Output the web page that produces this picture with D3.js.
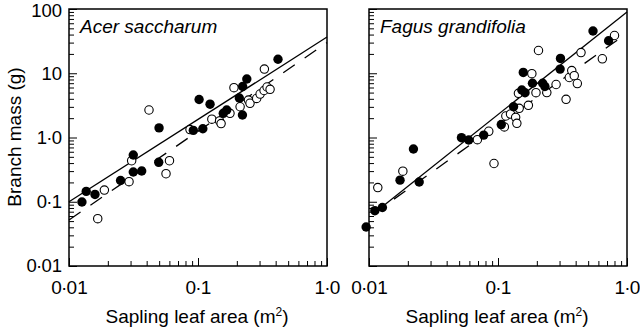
<!DOCTYPE html>
<html>
<head>
<meta charset="utf-8">
<script src="https://cdn.jsdelivr.net/npm/d3@7"></script>
<style>
  body { margin: 0; background: #fff; }
  text { font-family: 'Liberation Sans', Arial, sans-serif; fill: #000; }
  .frame { fill: none; stroke: #000; stroke-width: 1.5; }
  .axis path { display: none; }
  .axis line { stroke: #000; stroke-width: 1; }
</style>
</head>
<body>
<div id="chart"></div>
<script>
var width = 640;
var height = 328;

// Acer saccharum, filled and open symbols
var aceFilledArea = [0.0126, 0.0136, 0.0159, 0.0251, 0.0315, 0.0315, 0.0366, 0.0496, 0.0499, 0.092,
  0.109, 0.102, 0.124, 0.157, 0.167, 0.209, 0.221, 0.222, 0.239, 0.417];
var aceFilledMass = [0.099, 0.145, 0.130, 0.214, 0.534, 0.290, 0.301, 0.411, 1.41, 1.29,
  1.37, 3.90, 3.30, 2.38, 2.68, 4.12, 2.24, 6.22, 8.14, 16.5];
var aceOpenArea = [0.0167, 0.0188, 0.0292, 0.0306, 0.0565, 0.0601, 0.0417, 0.0867, 0.128, 0.147, 0.151,
  0.177, 0.190, 0.212, 0.246, 0.253, 0.285, 0.303, 0.325, 0.343, 0.362, 0.327];
var aceOpenMass = [0.0545, 0.152, 0.205, 0.435, 0.273, 0.435, 2.68, 1.33, 1.93, 1.81, 1.65,
  2.38, 5.96, 3.01, 3.83, 3.41, 4.05, 4.75, 5.39, 6.11, 5.62, 11.6];

// Fagus grandifolia, filled and open symbols
var fagFilledArea = [0.0095, 0.0111, 0.0127, 0.0174, 0.0221, 0.0245, 0.0521, 0.0593, 0.0775, 0.106, 0.132,
  0.153, 0.162, 0.157, 0.185, 0.222, 0.231, 0.303, 0.305, 0.545, 0.720];
var fagFilledMass = [0.0405, 0.0726, 0.0814, 0.217, 0.662, 0.203, 0.993, 0.914, 1.09, 1.59, 3.01,
  5.49, 4.98, 10.3, 6.98, 6.98, 6.22, 11.6, 17.0, 45.5, 32.1];
var fagOpenArea = [0.0117, 0.0183, 0.0692, 0.0848, 0.0931, 0.112, 0.115, 0.125, 0.137, 0.140, 0.146, 0.144, 0.172,
  0.183, 0.197, 0.206, 0.239, 0.282, 0.337, 0.357, 0.373, 0.390, 0.412, 0.440, 0.644, 0.800];
var fagOpenMass = [0.166, 0.299, 0.924, 1.25, 0.394, 1.46, 2.16, 2.32, 2.06, 1.66, 2.85, 4.87, 3.17,
  9.84, 4.98, 22.6, 5.01, 6.68, 3.93, 8.59, 11.0, 9.16, 6.92, 21.0, 16.8, 38.7];

// fitted lines (end points)
var aceSolidArea = [0.01, 1.0], aceSolidMass = [0.1, 36.6];
var aceDashArea = [0.01, 1.0], aceDashMass = [0.052, 30];
var fagSolidArea = [0.0107, 1.0], fagSolidMass = [0.064, 90];
var fagDashArea = [0.0107, 1.0], fagDashMass = [0.064, 42];

var xTicks = [0.01, 0.1, 1];
var xTickLabels = ['0·01', '0·1', '1·0'];
var yTicks = [0.01, 0.1, 1, 10, 100];
var yTickLabels = ['0·01', '0·1', '1·0', '10', '100'];

var svg = d3.select('#chart').append('svg')
  .attr('width', width)
  .attr('height', height);

var y = d3.scaleLog().domain([0.01, 100]).range([266, 9]);

function minorTicks(lo, hi) {
  var out = [];
  for (var e = lo; e < hi; e++) {
    for (var k = 2; k <= 9; k++) out.push(k * Math.pow(10, e));
  }
  return out;
}

// put the middle dot closer to the digits
function dotLabels(sel) {
  sel.each(function() {
    var t = d3.select(this);
    var s = t.text();
    if (s.indexOf('·') < 0) return;
    var parts = s.split('·');
    t.text(null);
    t.append('tspan').text(parts[0]);
    t.append('tspan').attr('dx', -0.8).text('·');
    t.append('tspan').attr('dx', -0.8).text(parts[1]);
  });
}

function drawPanel(x0, title, filledA, filledM, openA, openM, solidA, solidM, dashA, dashM, showY) {
  var x = d3.scaleLog().domain([0.01, 1]).range([x0, x0 + 258]);
  var g = svg.append('g');

  // minor + major ticks, pointing inward
  g.append('g').attr('class', 'axis')
    .attr('transform', 'translate(' + x0 + ',0)')
    .call(d3.axisLeft(y).tickValues(minorTicks(-2, 2)).tickSize(-5).tickFormat(''));
  var ya = g.append('g').attr('class', 'axis')
    .attr('transform', 'translate(' + x0 + ',0)')
    .call(d3.axisLeft(y).tickValues(yTicks).tickSize(-8).tickPadding(7)
      .tickFormat(function(d, i) { return showY ? yTickLabels[i] : ''; }));
  ya.selectAll('text').style('font-size', '18.5px').call(dotLabels);
  // keep the top label inside the page
  ya.selectAll('text').filter(function(d) { return d === 100; }).attr('dy', '0.43em');

  g.append('g').attr('class', 'axis')
    .attr('transform', 'translate(0,266)')
    .call(d3.axisBottom(x).tickValues(minorTicks(-2, 0)).tickSize(-5).tickFormat(''));
  var xa = g.append('g').attr('class', 'axis')
    .attr('transform', 'translate(0,266)')
    .call(d3.axisBottom(x).tickValues(xTicks).tickSize(-8).tickPadding(14.5)
      .tickFormat(function(d, i) { return xTickLabels[i]; }));
  xa.selectAll('text').style('font-size', '19px').call(dotLabels);

  g.append('rect').attr('class', 'frame')
    .attr('x', x0).attr('y', 9).attr('width', 258).attr('height', 257);

  var line = d3.line()
    .x(function(d) { return x(d[0]); })
    .y(function(d) { return y(d[1]); });

  g.append('path')
    .datum(d3.zip(solidA, solidM))
    .attr('d', line)
    .attr('fill', 'none').attr('stroke', '#000').attr('stroke-width', 1.3);
  g.append('path')
    .datum(d3.zip(dashA, dashM))
    .attr('d', line)
    .attr('fill', 'none').attr('stroke', '#000').attr('stroke-width', 1.3)
    .attr('stroke-dasharray', '14,12');

  g.append('g').selectAll('circle')
    .data(d3.zip(openA, openM))
    .enter().append('circle')
    .attr('cx', function(d) { return x(d[0]); })
    .attr('cy', function(d) { return y(d[1]); })
    .attr('r', 4.2)
    .attr('fill', '#fff')
    .attr('stroke', '#000')
    .attr('stroke-width', 1.1);

  g.append('g').selectAll('circle')
    .data(d3.zip(filledA, filledM))
    .enter().append('circle')
    .attr('cx', function(d) { return x(d[0]); })
    .attr('cy', function(d) { return y(d[1]); })
    .attr('r', 4.7)
    .attr('fill', '#000');

  g.append('text')
    .attr('x', x0 + 11)
    .attr('y', 33)
    .style('font-size', '19px')
    .style('font-style', 'italic')
    .text(title);

  var xl = g.append('text')
    .attr('x', x0 + 128)
    .attr('y', 323)
    .attr('text-anchor', 'middle')
    .style('font-size', '19px');
  xl.append('tspan').text('Sapling leaf area (m');
  xl.append('tspan').attr('dy', -7).style('font-size', '12px').text('2');
  xl.append('tspan').attr('dy', 7).text(')');
}

drawPanel(69, 'Acer saccharum', aceFilledArea, aceFilledMass, aceOpenArea, aceOpenMass,
  aceSolidArea, aceSolidMass, aceDashArea, aceDashMass, true);
drawPanel(369, 'Fagus grandifolia', fagFilledArea, fagFilledMass, fagOpenArea, fagOpenMass,
  fagSolidArea, fagSolidMass, fagDashArea, fagDashMass, false);

svg.append('text')
  .attr('transform', 'translate(21,' + 137 + ') rotate(-90)')
  .attr('text-anchor', 'middle')
  .style('font-size', '19px')
  .text('Branch mass (g)');
</script>
</body>
</html>
